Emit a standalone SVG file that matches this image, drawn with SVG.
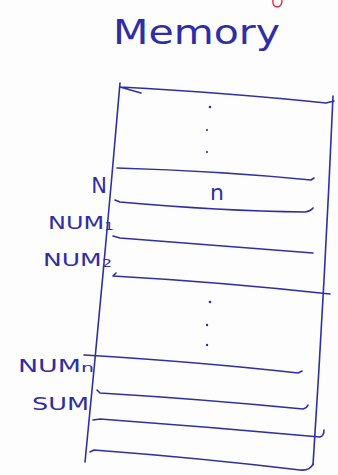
<svg xmlns="http://www.w3.org/2000/svg" width="338" height="475" viewBox="0 0 338 475">
<style>
.ink{fill:none;stroke:#2e2ea6;stroke-width:1.6;stroke-linecap:round;stroke-linejoin:round}
.lbl{font-family:"DejaVu Sans","Liberation Sans",sans-serif;fill:#2e2ea6}
.dot{fill:#2e2ea6}
</style>
<rect width="338" height="475" fill="#fefdfe"/>
<path d="M273,0 Q272,7 278,7 Q282,6 282,0" fill="none" stroke="#e0304a" stroke-width="1.4"/>
<text class="lbl" x="113" y="44" font-size="34" textLength="167" lengthAdjust="spacingAndGlyphs">Memory</text>
<g id="connectors">
<path class="ink" d="M120,83 Q104,270 85,462"/>
<path class="ink" d="M333,96 Q325,280 313,465"/>
</g>
<g id="cell-top">
<path class="ink" d="M120,87 L141,93 M120,87 Q230,93 326,103 L334,101"/>
<circle class="dot" cx="210" cy="107" r="1.3"/>
<circle class="dot" cx="207" cy="130" r="1.1"/>
<circle class="dot" cx="207" cy="152" r="1.1"/>
</g>
<g id="cell-N">
<path class="ink" d="M117,168 Q220,171 311,180 L314,178"/>
<text class="lbl" x="107" y="193" font-size="21" text-anchor="end">N</text>
<text class="lbl" x="217" y="200" font-size="22" text-anchor="middle">n</text>
</g>
<g id="cell-NUM1">
<path class="ink" d="M115,200 L120,202 Q220,211 305,212 Q311,211 313,208"/>
<text class="lbl" x="48" y="229" font-size="17" textLength="66" lengthAdjust="spacingAndGlyphs">NUM<tspan font-size="11" dy="1">1</tspan></text>
</g>
<g id="cell-NUM2">
<path class="ink" d="M113,236 L120,238 Q220,246 313,253"/>
<text class="lbl" x="43" y="266" font-size="17" textLength="69" lengthAdjust="spacingAndGlyphs">NUM<tspan font-size="11" dy="1">2</tspan></text>
</g>
<g id="cell-mid">
<path class="ink" d="M116,273 L113,276 Q220,282 330,294"/>
<circle class="dot" cx="210" cy="302" r="1.3"/>
<circle class="dot" cx="207" cy="325" r="1.2"/>
<circle class="dot" cx="207" cy="345" r="1.2"/>
</g>
<g id="cell-NUMn">
<path class="ink" d="M84,355 Q200,362 298,373 L302,371"/>
<text class="lbl" x="18" y="372" font-size="17" textLength="76" lengthAdjust="spacingAndGlyphs">NUM<tspan font-size="13" dy="0">n</tspan></text>
</g>
<g id="cell-SUM">
<path class="ink" d="M97,390 L100,393 Q200,399 303,409 Q307,408 308,405"/>
<text class="lbl" x="32" y="410" font-size="18" textLength="57" lengthAdjust="spacingAndGlyphs">SUM</text>
</g>
<g id="cell-last">
<path class="ink" d="M93,420 L100,419 Q210,427 320,437 Q324,436 324,430"/>
<path class="ink" d="M90,452 L94,450 Q200,458 300,470 Q310,471 313,464"/>
</g>
</svg>
